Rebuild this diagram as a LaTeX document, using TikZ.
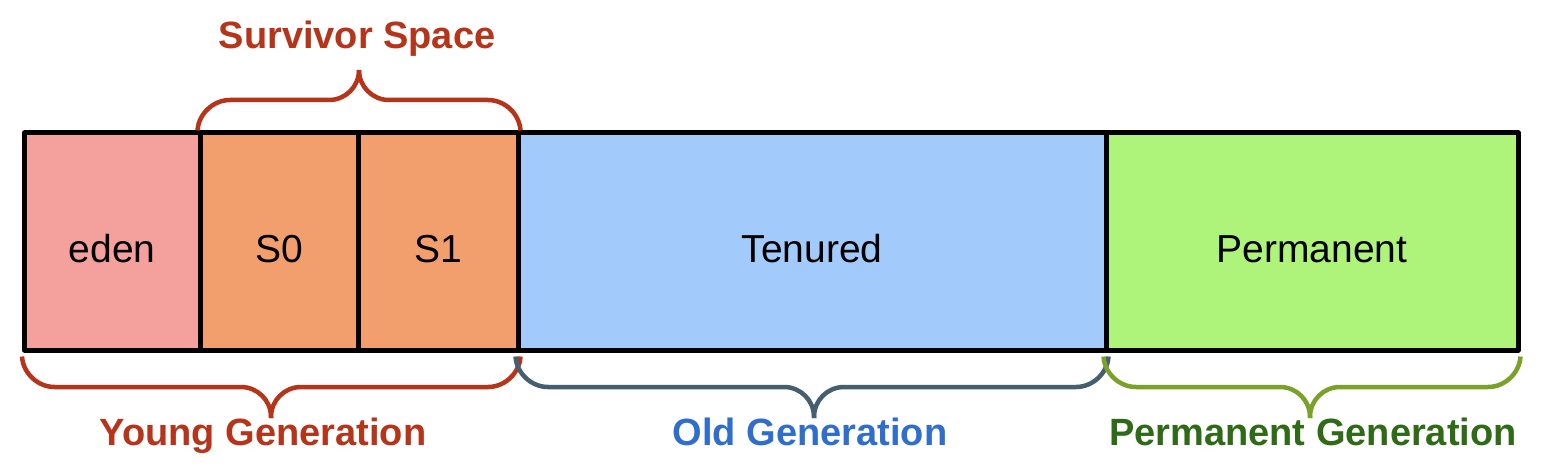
\documentclass[tikz,border=0pt]{standalone}
\usepackage{fontspec}
\setmainfont{Liberation Sans}
\usetikzlibrary{calc}
\definecolor{heapEden}{HTML}{F4A09D}
\definecolor{heapSurv}{HTML}{F39F6D}
\definecolor{heapOld}{HTML}{A2CBFB}
\definecolor{heapPerm}{HTML}{AEF47A}
\definecolor{heapRed}{HTML}{B5341A}
\definecolor{heapSlate}{HTML}{455F71}
\definecolor{heapBlue}{HTML}{2F6ECC}
\definecolor{heapLime}{HTML}{7AA22A}
\definecolor{heapGreen}{HTML}{2F6B17}
\begin{document}
\begin{tikzpicture}[x=1pt,y=-1pt,line cap=round,line join=round]
\useasboundingbox[fill=white] (0,0) rectangle (1550,476);
\tikzset{seg/.style={draw=black,line width=5pt,minimum height=217pt,inner sep=0pt,font=\fontsize{39}{44}\selectfont,text height=41pt,text depth=0pt},
  brace/.style={line width=4.5pt,line cap=butt,rounded corners=30pt},
  genlabel/.style={font=\bfseries\fontsize{38}{44}\selectfont,anchor=base}}
% heap segments
\node[seg,fill=heapEden,minimum width=175.5pt] (eden) at (112.25,241.5) {eden};
\node[seg,fill=heapSurv,minimum width=158pt] (s0) at (279,241.5) {S0};
\node[seg,fill=heapSurv,minimum width=160pt] (s1) at (438,241.5) {S1};
\node[seg,fill=heapOld,minimum width=588pt] (tenured) at (812,241.5) {Tenured};
\node[seg,fill=heapPerm,minimum width=412pt] (perm) at (1312,241.5) {Permanent};
% braces, drawn as two halves meeting at the tip
\draw[brace,heapRed] (s0.north west) -- (200,100) -- (359,100) -- (359,70);
\draw[brace,heapRed] (s1.north east) -- (518,100) -- (359,100) -- (359,70);
\draw[brace,heapRed] ($(eden.south west)+(0,4)$) -- (24.5,387) -- (271,387) -- (271,418);
\draw[brace,heapRed] ($(s1.south east)+(0,4)$) -- (518,387) -- (271,387) -- (271,418);
\draw[brace,heapSlate] ($(tenured.south west)+(0,4)$) -- (518,387) -- (814,387) -- (814,418);
\draw[brace,heapSlate] ($(tenured.south east)+(0,4)$) -- (1106,387) -- (814,387) -- (814,418);
\draw[brace,heapLime] ($(perm.south west)+(0,4)$) -- (1106,387) -- (1310,387) -- (1310,418);
\draw[brace,heapLime] ($(perm.south east)+(0,4)$) -- (1518,387) -- (1310,387) -- (1310,418);
% generation labels
\node[genlabel,text=heapRed] (survlbl) at (357,49) {Survivor Space};
\node[genlabel,text=heapRed] (younglbl) at (263,445) {Young Generation};
\node[genlabel,text=heapBlue] (oldlbl) at (810,445) {Old Generation};
\node[genlabel,text=heapGreen] (permlbl) at (1313,445) {Permanent Generation};
\end{tikzpicture}
\end{document}
